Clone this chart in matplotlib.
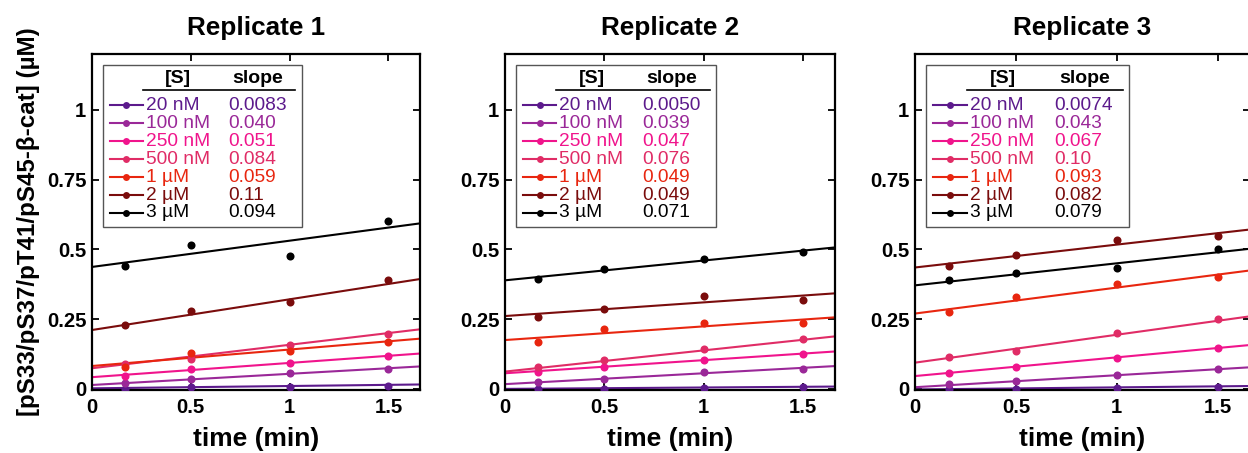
import numpy as np
import matplotlib.pyplot as plt
from matplotlib.lines import Line2D
from matplotlib.patches import Rectangle

plt.rcParams['font.family'] = ['Liberation Sans', 'DejaVu Sans']

# Data
times = [0.167, 0.5, 1.0, 1.5]  # min
conc_labels = ['20 nM', '100 nM', '250 nM', '500 nM', '1 \u00b5M', '2 \u00b5M', '3 \u00b5M']
colors = ['#5c1a8c', '#9a2898', '#f0148c', '#e02c66', '#e8260f', '#7a0c0c', '#000000']

# measured points, one list per concentration
rep1_points = [
    [0.000, 0.005, 0.008, 0.011],
    [0.020, 0.036, 0.056, 0.071],
    [0.046, 0.071, 0.092, 0.118],
    [0.089, 0.106, 0.157, 0.196],
    [0.080, 0.130, 0.136, 0.167],
    [0.229, 0.280, 0.313, 0.389],
    [0.440, 0.517, 0.475, 0.600],
]
rep2_points = [
    [0.000, 0.000, 0.002, 0.006],
    [0.023, 0.036, 0.060, 0.071],
    [0.060, 0.077, 0.104, 0.124],
    [0.080, 0.104, 0.143, 0.179],
    [0.167, 0.213, 0.237, 0.235],
    [0.256, 0.288, 0.333, 0.318],
    [0.392, 0.431, 0.464, 0.490],
]
rep3_points = [
    [0.000, 0.000, 0.002, 0.006],
    [0.017, 0.030, 0.050, 0.071],
    [0.058, 0.077, 0.110, 0.148],
    [0.115, 0.137, 0.199, 0.249],
    [0.276, 0.330, 0.375, 0.401],
    [0.439, 0.481, 0.535, 0.548],
    [0.389, 0.415, 0.432, 0.501],
]

# linear fits: slope labels as printed, intercepts
rep1_slopes = ['0.0083', '0.040', '0.051', '0.084', '0.059', '0.11', '0.094']
rep2_slopes = ['0.0050', '0.039', '0.047', '0.076', '0.049', '0.049', '0.071']
rep3_slopes = ['0.0074', '0.043', '0.067', '0.10', '0.093', '0.082', '0.079']
rep1_intercepts = [0.002, 0.014, 0.042, 0.074, 0.082, 0.211, 0.437]
rep2_intercepts = [0.000, 0.017, 0.056, 0.062, 0.175, 0.261, 0.389]
rep3_intercepts = [-0.002, 0.006, 0.046, 0.094, 0.270, 0.435, 0.371]

titles = ['Replicate 1', 'Replicate 2', 'Replicate 3']
replicates = [
    (rep1_points, rep1_slopes, rep1_intercepts),
    (rep2_points, rep2_slopes, rep2_intercepts),
    (rep3_points, rep3_slopes, rep3_intercepts),
]

W, H = 1248, 453
fig = plt.figure(figsize=(W / 100, H / 100), dpi=100)

# axes boxes in pixels: left, top, right, bottom
boxes = [(92, 54, 420, 390), (505, 54, 835, 390), (915, 54, 1250, 390)]

XMAX = 1.66
for k, (box, title, (points, slopes, intercepts)) in enumerate(zip(boxes, titles, replicates)):
    l, t, r, b = box
    ax = fig.add_axes([l / W, 1 - b / H, (r - l) / W, (b - t) / H])

    xfit = np.array([0, XMAX])
    for pts, s, c, col in zip(points, slopes, intercepts, colors):
        ax.plot(xfit, c + float(s) * xfit, color=col, lw=1.5, zorder=2)
        ax.plot(times, pts, 'o', color=col, ms=5.8, mec='none', zorder=3)

    ax.set_xlim(0, XMAX)
    ax.set_ylim(-0.004, 1.2)
    ax.set_xticks([0, 0.5, 1, 1.5])
    ax.set_xticklabels(['0', '0.5', '1', '1.5'])
    ax.set_yticks([0, 0.25, 0.5, 0.75, 1])
    ax.set_yticklabels(['0', '0.25', '0.5', '0.75', '1'])
    ax.tick_params(direction='in', top=True, right=True, length=5, width=1.3,
                   labelsize=14.6)
    ax.tick_params(axis='x', pad=6)
    ax.tick_params(axis='y', pad=4)
    for lab in ax.get_xticklabels() + ax.get_yticklabels():
        lab.set_fontweight('bold')
    for sp in ax.spines.values():
        sp.set_linewidth(1.6)

    ax.set_title(title, fontsize=18.8, fontweight='bold', pad=14)
    ax.set_xlabel('time (min)', fontsize=19, fontweight='bold', labelpad=7)
    if k == 0:
        ax.set_ylabel('[pS33/pS37/pT41/pS45-\u03b2-cat] (\u00b5M)', fontsize=17.4,
                      fontweight='bold', labelpad=5)

    # hand-built legend table
    tr = ax.transAxes
    ax.add_patch(Rectangle((0.034, 0.485), 0.606, 0.482, transform=tr, fill=False,
                           ec='#555555', lw=1.0, zorder=5))
    ax.text(0.262, 0.928, '[S]', transform=tr, ha='center', va='center',
            fontsize=14, fontweight='bold', zorder=6)
    ax.text(0.505, 0.928, 'slope', transform=tr, ha='center', va='center',
            fontsize=14, fontweight='bold', zorder=6)
    ax.add_line(Line2D([0.155, 0.62], [0.893, 0.893], transform=tr, color='black',
                       lw=1.2, zorder=6))
    for i, (lab, s, col) in enumerate(zip(conc_labels, slopes, colors)):
        y = 1 - (105 + 18 * i - 54) / 336
        ax.add_line(Line2D([0.055, 0.155], [y, y], transform=tr, color=col, lw=1.5, zorder=6))
        ax.add_line(Line2D([0.105], [y], transform=tr, color=col, marker='o', ms=5,
                           mec='none', zorder=7))
        ax.text(0.165, y, lab, transform=tr, ha='left', va='center', fontsize=13.8,
                color=col, zorder=6)
        ax.text(0.415, y, s, transform=tr, ha='left', va='center', fontsize=13.8,
                color=col, zorder=6)

fig.savefig('out.png', dpi=100)
